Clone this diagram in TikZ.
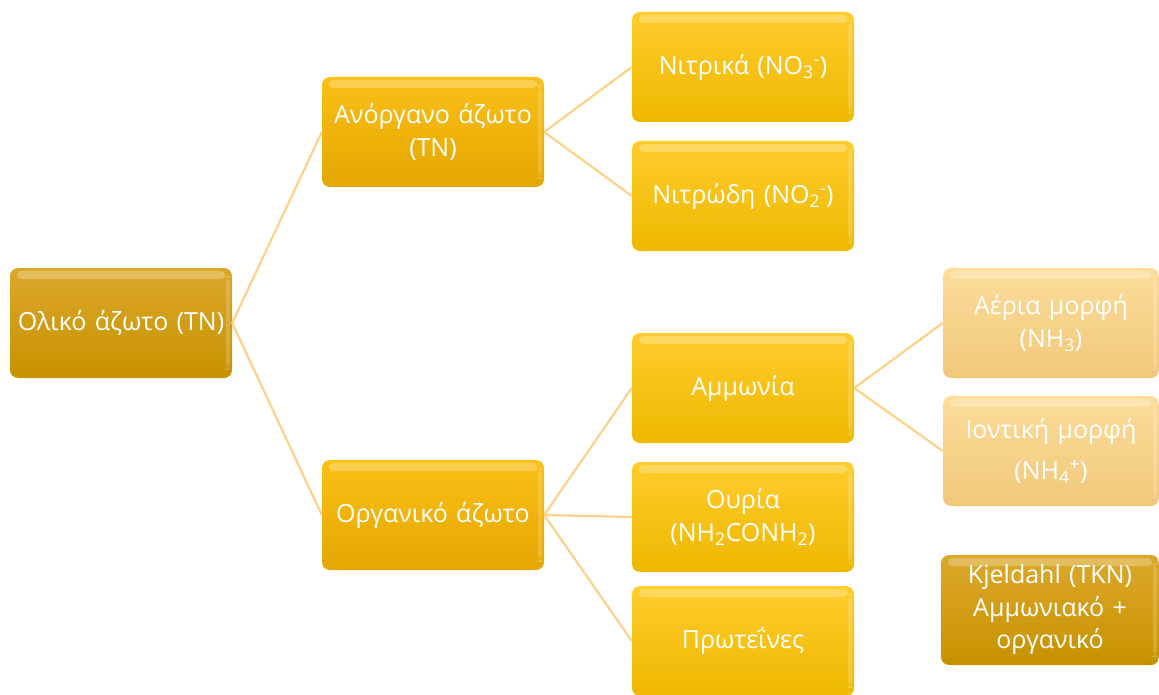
\documentclass[tikz,border=0pt]{standalone}
\usepackage{fontspec}
\setmainfont{Open Sans}
\usetikzlibrary{positioning}

\definecolor{darkgoldtop}{RGB}{220,168,44}
\definecolor{darkgoldbot}{RGB}{198,146,0}
\definecolor{goldtop}{RGB}{250,192,24}
\definecolor{goldbot}{RGB}{228,166,0}
\definecolor{yellowtop}{RGB}{255,204,44}
\definecolor{yellowbot}{RGB}{238,184,0}
\definecolor{paletop}{RGB}{252,220,154}
\definecolor{palebot}{RGB}{240,200,122}
\definecolor{linkcol}{RGB}{252,210,138}

\begin{document}
\begin{tikzpicture}[x=1pt,y=-1pt,
        box/.style={rounded corners=8pt, minimum width=222pt, minimum height=110pt,
            text width=214pt, align=center, text=white, inner sep=0pt,
            font=\fontsize{25}{32.5}\selectfont,
            path picture={\fill[white,opacity=0.25,rounded corners=4pt]
                ([xshift=7pt,yshift=-3pt]path picture bounding box.north west) rectangle
                ([xshift=-7pt,yshift=-11pt]path picture bounding box.north east);
                \fill[white,opacity=0.18]
                ([xshift=-6pt,yshift=-8pt]path picture bounding box.north east) rectangle
                ([xshift=-2pt,yshift=8pt]path picture bounding box.south east);}},
        rootbox/.style={box, top color=darkgoldtop, bottom color=darkgoldbot},
        midbox/.style={box, top color=goldtop, bottom color=goldbot},
        leafbox/.style={box, top color=yellowtop, bottom color=yellowbot},
        palebox/.style={box, top color=paletop, bottom color=palebot, minimum width=216pt, text width=210pt},
        link/.style={linkcol, line width=2.2pt}]
        \useasboundingbox (0,0) rectangle (1159,695);

        % first and second level
        \node[rootbox] (total) at (121,323) {Ολικό άζωτο (TN)};
        \node[midbox] (inorg) at (433,132) {Ανόργανο άζωτο\\(TN)};
        \node[midbox] (org) at (433,515) {Οργανικό άζωτο};

        % third level
        \node[leafbox] (nitrate) at (743,67) {Νιτρικά (NO\textsubscript{3}\textsuperscript{-})};
        \node[leafbox] (nitrite) at (743,196) {Νιτρώδη (NO\textsubscript{2}\textsuperscript{-})};
        \node[leafbox] (ammonia) at (743,388) {Αμμωνία};
        \node[leafbox] (urea) at (743,517) {Ουρία\\(NH\textsubscript{2}CONH\textsubscript{2})};
        \node[leafbox] (protein) at (743,641) {Πρωτεΐνες};

        % fourth level
        \node[palebox] (gas) at (1051,323) {Αέρια μορφή\\(NH\textsubscript{3})};
        \node[palebox] (ion) at (1051,451) {Ιοντική μορφή\\[8pt](NH\textsubscript{4}\textsuperscript{+})};
        \node[rootbox, minimum width=218pt, text width=210pt] (tkn) at (1050,610) {Kjeldahl (TKN)\\Αμμωνιακό +\\οργανικό};

        \draw[link] (total.east) -- (inorg.west);
        \draw[link] (total.east) -- (org.west);
        \draw[link] (inorg.east) -- (nitrate.west);
        \draw[link] (inorg.east) -- (nitrite.west);
        \draw[link] (org.east) -- (ammonia.west);
        \draw[link] (org.east) -- (urea.west);
        \draw[link] (org.east) -- (protein.west);
        \draw[link] (ammonia.east) -- (gas.west);
        \draw[link] (ammonia.east) -- (ion.west);
    \end{tikzpicture}
\end{document}
